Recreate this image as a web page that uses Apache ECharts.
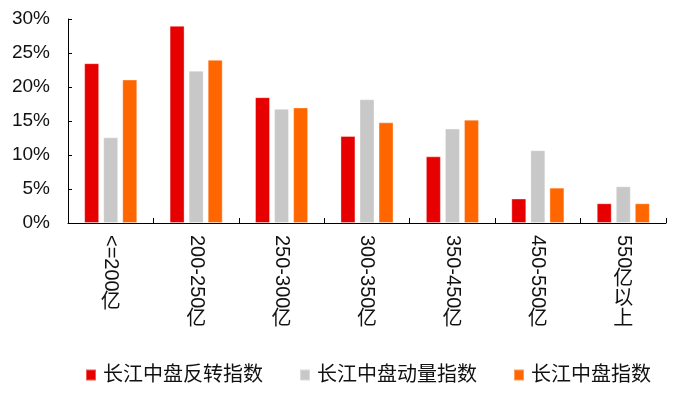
<!DOCTYPE html>
<html>
<head>
<meta charset="utf-8">
<script src="https://cdn.jsdelivr.net/npm/echarts@6/dist/echarts.min.js"></script>
<style>
html,body{margin:0;padding:0;background:#fff;}
#chart{width:675px;height:393px;}
</style>
</head>
<body>
<div id="chart"></div>
<script>
var categories = ['<=200亿', '200-250亿', '250-300亿', '300-350亿', '350-450亿', '450-550亿', '550亿以上'];
var seriesNames = ['长江中盘反转指数', '长江中盘动量指数', '长江中盘指数'];
var reversal = [23.5, 29.0, 18.5, 12.8, 9.8, 3.6, 2.9];
var momentum = [12.6, 22.4, 16.8, 18.2, 13.9, 10.7, 5.4];
var midcap = [21.1, 24.0, 17.0, 14.8, 15.2, 5.2, 2.9];
var yTicks = {min: 0, max: 30, interval: 5};

var colors = ['#E60000', '#C8C8C8', '#FF6600'];
var font = '"Liberation Sans", Arial, "Noto Sans CJK SC", sans-serif';
var textColor = '#111';
var xLabelSize = 20;

var chart = echarts.init(document.getElementById('chart'));
var dataSets = [reversal, momentum, midcap];
chart.setOption({
  animation: false,
  color: colors,
  textStyle: {fontFamily: font},
  grid: {left: 68, right: 9, top: 19, bottom: 170, containLabel: false},
  legend: {
    left: 85, top: 365, padding: 0,
    itemWidth: 10, itemHeight: 11, itemGap: 36,
    icon: 'rect',
    textStyle: {fontSize: 20, color: textColor, fontFamily: font, padding: [0, 0, 0, 2]},
    data: seriesNames
  },
  xAxis: {
    type: 'category',
    data: categories,
    axisLine: {lineStyle: {color: '#000', width: 1}},
    axisTick: {show: true, inside: true, length: 5, lineStyle: {color: '#000'}},
    axisLabel: {show: false}
  },
  yAxis: {
    type: 'value',
    min: yTicks.min, max: yTicks.max, interval: yTicks.interval,
    splitLine: {show: false},
    axisLine: {show: true, lineStyle: {color: '#000', width: 1}},
    axisTick: {show: true, inside: true, length: 4, lineStyle: {color: '#000'}},
    axisLabel: {formatter: '{value}%', margin: 18, fontSize: 19, color: textColor, fontFamily: font}
  },
  series: seriesNames.map(function (n, i) {
    return {
      name: n, type: 'bar', data: dataSets[i],
      barWidth: 15, barGap: '27%',
      itemStyle: {borderColor: 'rgba(255,255,255,0.35)', borderWidth: 1}
    };
  })
});

// vertical category labels: Latin part rotated, CJK part upright (stacked)
(function () {
  var ctx = document.createElement('canvas').getContext('2d');
  var fontStr = xLabelSize + 'px ' + font;
  ctx.font = fontStr;
  var y0 = chart.convertToPixel({yAxisIndex: 0}, 0) + 12;
  var els = [];
  categories.forEach(function (c) {
    var x = chart.convertToPixel({xAxisIndex: 0}, c);
    var m = c.match(/^([\x00-\x7f]*)(.*)$/);
    var latin = m[1], cjk = m[2];
    var w = ctx.measureText(latin).width;
    els.push({
      type: 'text', x: x, y: y0, rotation: -Math.PI / 2,
      style: {text: latin, font: fontStr, fill: textColor, textAlign: 'left', textVerticalAlign: 'middle'}
    });
    if (cjk) {
      els.push({
        type: 'text', x: x, y: y0 + w + 1,
        style: {text: cjk.split('').join('\n'), font: fontStr, fill: textColor,
          textAlign: 'center', textVerticalAlign: 'top', lineHeight: 20}
      });
    }
  });
  chart.setOption({graphic: els});
})();
</script>
</body>
</html>
